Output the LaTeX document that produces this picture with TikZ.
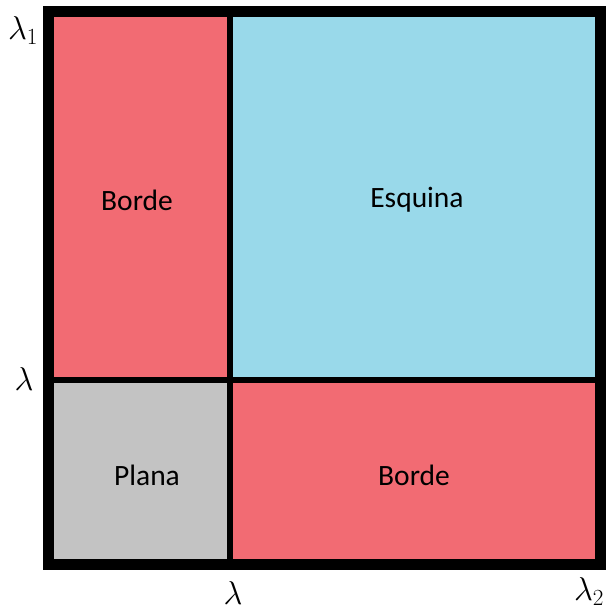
\RequirePackage{fix-cm}
\documentclass[tikz,border=0pt]{standalone}
\usepackage{fontspec}
\setmainfont{Carlito}
\definecolor{rosa}{HTML}{F26B73}
\definecolor{celeste}{HTML}{99D9EA}
\definecolor{gris}{HTML}{C3C3C3}
\begin{document}
\begin{tikzpicture}[x=1pt,y=-1pt,
  cell/.style={draw=none,inner sep=0pt,font=\fontsize{29.5}{34}\selectfont},
  axlab/.style={inner sep=0pt,font=\fontsize{33}{37}\selectfont}]
\useasboundingbox (0,0) rectangle (608,611);
\fill[rosa] (48,11) rectangle (230,380);
\fill[celeste] (230,11) rectangle (600,380);
\fill[gris] (48,380) rectangle (230,564);
\fill[rosa] (230,380) rectangle (600,564);
\node[cell] (tl) at (137,200) {Borde};
\node[cell] (tr) at (417,200) {Esquina};
\node[cell] (bl) at (147,475) {Plana};
\node[cell] (br) at (414,475) {Borde};
\coordinate (vt) at (230,11);
\coordinate (vb) at (230,564);
\coordinate (hl) at (48,380);
\coordinate (hr) at (600,380);
\draw[line width=6pt] (vt) -- (vb);
\draw[line width=6pt] (hl) -- (hr);
\coordinate (c1) at (48,11);
\coordinate (c2) at (600,564);
\draw[line width=11pt] (c1) rectangle (c2);
\node[axlab] (l1) at (23,31) {$\lambda_1$};
\node[axlab] (ly) at (24,379) {$\lambda$};
\node[axlab] (lx) at (233,593) {$\lambda$};
\node[axlab] (l2) at (589,592) {$\lambda_2$};
\end{tikzpicture}
\end{document}
